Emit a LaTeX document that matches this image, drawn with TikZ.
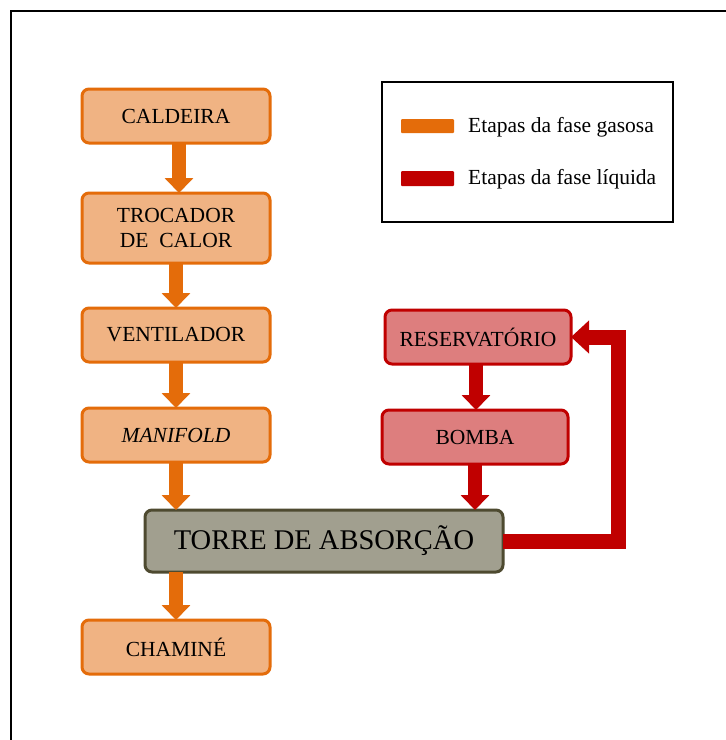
\documentclass[tikz,border=0pt]{standalone}
\usepackage{fontspec}
\setmainfont{Liberation Serif}
\usetikzlibrary{arrows.meta,calc}
\definecolor{orA}{HTML}{E46C0A}
\definecolor{orF}{HTML}{F0B383}
\definecolor{rdA}{HTML}{C00000}
\definecolor{rdF}{HTML}{DD7E7E}
\definecolor{gyF}{HTML}{A19F8F}
\definecolor{gyB}{HTML}{4E4A30}
\tikzset{
  obox/.style={draw=orA, fill=orF, line width=3pt, rounded corners=7pt, minimum width=188pt, minimum height=54pt, inner sep=0pt, outer sep=0pt, align=center, font=\fontsize{21.5}{25}\selectfont},
  rbox/.style={draw=rdA, fill=rdF, line width=3pt, rounded corners=7pt, minimum width=186pt, minimum height=54pt, inner sep=0pt, outer sep=0pt, align=center, font=\fontsize{21.5}{25}\selectfont},
  gbox/.style={draw=gyB, fill=gyF, line width=3pt, rounded corners=7pt, minimum width=358pt, minimum height=62pt, inner sep=0pt, outer sep=0pt, font=\fontsize{28.5}{32}\selectfont},
  oarr/.style={draw=orA, line width=14pt, -{Triangle[width=28pt,length=15pt]}},
  rarr/.style={draw=rdA, line width=14pt, -{Triangle[width=28pt,length=15pt]}},
  loop/.style={draw=rdA, line width=15pt, miter limit=10, -{Triangle[width=32pt,length=18pt]}},
  legtext/.style={anchor=west, inner sep=0pt, font=\fontsize{21.5}{25}\selectfont}
}
\begin{document}
\begin{tikzpicture}[x=1pt,y=-1pt]
\useasboundingbox (0,0) rectangle (726,740);
\fill[white] (0,0) rectangle (726,740);
\draw[line width=2pt] (11,745) -- (11,11) -- (730,11);

% legend
\node[draw=black, line width=1.5pt, minimum width=291pt, minimum height=140pt, inner sep=0pt] (leg) at (527.5,152) {};
\fill[orA, rounded corners=1pt] (401,119) rectangle (454,133);
\fill[rdA, rounded corners=1pt] (401,171) rectangle (454,186);
\node[legtext] (lg1) at (468,127) {Etapas da fase gasosa};
\node[legtext] (lg2) at (468,179) {Etapas da fase líquida};

% gaseous branch
\node[obox] (cal) at (176,116) {CALDEIRA};
\node[obox, minimum height=70pt] (tro) at (176,228) {TROCADOR\\DE\ \ CALOR};
\node[obox] (ven) at (176,335) {VENTILADOR};
\node[obox] (man) at (176,435) {\itshape MANIFOLD};
\node[gbox] (tor) at (324,541) {TORRE DE ABSORÇÃO};
\node[obox] (cha) at (176,647) {CHAMINÉ};

% liquid branch
\node[rbox] (res) at (478,337) {RESERVATÓRIO};
\node[rbox] (bom) at (475,437) {BOMBA};

% orange arrows
\coordinate (c1) at ($(cal.south)+(3,0)$);
\draw[oarr] (c1) -- (c1 |- tro.north);
\draw[oarr] (tro.south) -- (tro.south |- ven.north);
\draw[oarr] (ven.south) -- (ven.south |- man.north);
\draw[oarr] (man.south) -- (man.south |- tor.north);
\draw[oarr] (cha.north |- tor.south) -- (cha.north);

% red arrows
\coordinate (c2) at ($(res.south)+(-2,0)$);
\draw[rarr] (c2) -- (c2 |- bom.north);
\draw[rarr] (bom.south) -- (bom.south |- tor.north);
\draw[loop] (tor.east) -- ++(115,0) |- (res.east);
\end{tikzpicture}
\end{document}
